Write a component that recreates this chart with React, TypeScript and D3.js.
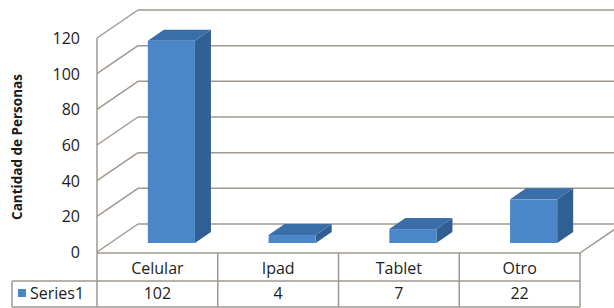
import * as d3 from "d3";

const CATEGORIES = ["Celular", "Ipad", "Tablet", "Otro"];
const VALUES = [102, 4, 7, 22];
const TICKS = [0, 20, 40, 60, 80, 100, 120];
const SERIES_NAME = "Series1";
const Y_TITLE = "Cantidad de Personas";

const W = 614;
const H = 308;
const FONT = "'Open Sans', sans-serif";
const GRID = "#a09890";
const INK = "#1c1c1c";

export default function App() {
  // plot frame (front plane)
  const left = 97;
  const right = 580;
  const front0 = 252;
  const depthX = 41;
  const depthY = -28;

  const yFront = d3.scaleLinear().domain([0, 120]).range([front0, 38]);
  const yBack = (v: number) => yFront(v) + depthY;

  const x = d3
    .scaleBand()
    .domain(CATEGORIES)
    .range([left, right])
    .paddingInner(0.61)
    .paddingOuter(0.305);

  // bars sit a bit inside the floor; their own plane scale
  const barShiftX = 14;
  const barBase = 243;
  const yBar = d3.scaleLinear().domain([0, 120]).range([barBase, barBase - 238]);
  const bdx = 16;
  const bdy = -11;

  const col = d3.scaleBand().domain(CATEGORIES).range([left, right]);
  const rowTop = 253;
  const rowMid = 281;
  const rowBot = 307;

  return (
    <svg
      width={W}
      height={H}
      style={{ position: "absolute", left: 0, top: 0, background: "#fff" }}
      fontFamily={FONT}
    >
      {/* back wall gridlines */}
      {TICKS.map((t) => (
        <line
          key={"b" + t}
          x1={left + depthX}
          x2={right + depthX}
          y1={yBack(t)}
          y2={yBack(t)}
          stroke={GRID}
          strokeWidth={1.5}
        />
      ))}
      {/* side wall diagonals */}
      {TICKS.map((t) => (
        <line
          key={"s" + t}
          x1={left}
          y1={yFront(t)}
          x2={left + depthX}
          y2={yBack(t)}
          stroke={GRID}
          strokeWidth={1.5}
        />
      ))}
      {/* floor right edge */}
      <line x1={right} y1={rowTop} x2={right + depthX} y2={rowTop + depthY} stroke={GRID} strokeWidth={1.5} />
      {/* side wall front edge */}
      <line x1={left} y1={yFront(120)} x2={left} y2={rowBot} stroke={GRID} strokeWidth={1.5} />

      {/* bars */}
      {CATEGORIES.map((c, i) => {
        const x0 = (x(c) ?? 0) + barShiftX;
        const x1 = x0 + x.bandwidth();
        const yt = yBar(VALUES[i]);
        const yb = barBase;
        return (
          <g key={c}>
            <polygon
              points={`${x1},${yt} ${x1 + bdx},${yt + bdy} ${x1 + bdx},${yb + bdy} ${x1},${yb}`}
              fill="#2f5f93"
            />
            <polygon
              points={`${x0},${yt} ${x0 + bdx},${yt + bdy} ${x1 + bdx},${yt + bdy} ${x1},${yt}`}
              fill="#3a6ea8"
            />
            <rect x={x0} y={yt} width={x1 - x0} height={yb - yt} fill="#4a86c8" />
          </g>
        );
      })}

      {/* y tick labels */}
      {TICKS.map((t) => (
        <text
          key={"t" + t}
          x={80}
          y={yFront(t)}
          textAnchor="end"
          dominantBaseline="central"
          fontSize={16}
          fill={INK}
        >
          {t}
        </text>
      ))}

      <text
        transform={`translate(17,${147}) rotate(-90)`}
        textAnchor="middle"
        dominantBaseline="central"
        fontSize={13.5}
        fontWeight="bold"
        fill={INK}
      >
        {Y_TITLE}
      </text>

      {/* data table */}
      <line x1={left} x2={right} y1={rowTop} y2={rowTop} stroke={GRID} strokeWidth={1.5} />
      <line x1={12} x2={right} y1={rowMid} y2={rowMid} stroke={GRID} strokeWidth={1.5} />
      <line x1={12} x2={right} y1={rowBot} y2={rowBot} stroke={GRID} strokeWidth={1.5} />
      <line x1={12} x2={12} y1={rowMid} y2={rowBot} stroke={GRID} strokeWidth={1.5} />
      {CATEGORIES.map((c) => (
        <line
          key={"v" + c}
          x1={(col(c) ?? 0) + col.bandwidth()}
          x2={(col(c) ?? 0) + col.bandwidth()}
          y1={rowTop}
          y2={rowBot}
          stroke={GRID}
          strokeWidth={1.5}
        />
      ))}
      {CATEGORIES.map((c, i) => (
        <g key={"l" + c}>
          <text
            x={(col(c) ?? 0) + col.bandwidth() / 2}
            y={268}
            textAnchor="middle"
            dominantBaseline="central"
            fontSize={16}
            fill={INK}
          >
            {c}
          </text>
          <text
            x={(col(c) ?? 0) + col.bandwidth() / 2}
            y={293}
            textAnchor="middle"
            dominantBaseline="central"
            fontSize={16}
            fill={INK}
          >
            {VALUES[i]}
          </text>
        </g>
      ))}
      <rect x={18} y={289} width={8} height={8} fill="#4a86c8" />
      <text x={30} y={293} dominantBaseline="central" fontSize={16} fill={INK}>
        {SERIES_NAME}
      </text>
    </svg>
  );
}
